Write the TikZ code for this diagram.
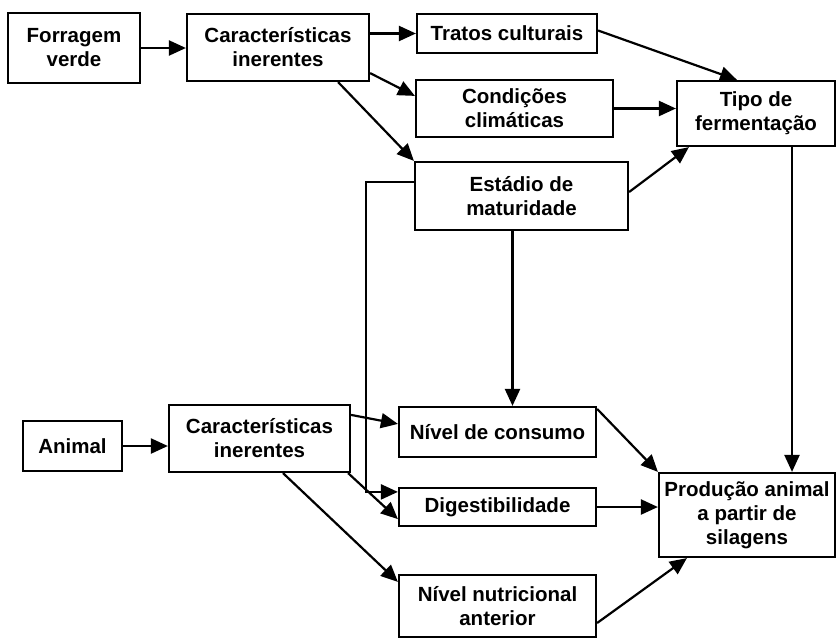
\documentclass[tikz,border=0pt]{standalone}
\usepackage{fontspec}
\setmainfont{Liberation Sans}
\usetikzlibrary{arrows.meta,calc}
\tikzset{
  box/.style={draw, line width=2.2pt, align=center, inner sep=0pt,
    font=\fontsize{20.5}{24}\selectfont\bfseries},
  conn/.style={line width=2.2pt, -{Triangle[length=17pt,width=15pt]}},
}
\begin{document}
\begin{tikzpicture}[x=1pt,y=-1pt]
\useasboundingbox (0,0) rectangle (837,638);
% top branch
\node[box, minimum width=132pt, minimum height=70pt] (fv) at (74,48) {Forragem\\verde};
\node[box, minimum width=182pt, minimum height=67pt] (ci1) at (278,47.5) {Características\\inerentes};
\node[box, minimum width=180pt, minimum height=39pt] (tc) at (507,33.5) {Tratos culturais};
\node[box, minimum width=197pt, minimum height=57pt] (cc) at (514.5,108.5) {Condições\\climáticas};
\node[box, minimum width=158pt, minimum height=65pt] (tf) at (756,113.5) {Tipo de\\fermentação};
\node[box, minimum width=213pt, minimum height=68pt] (em) at (521.5,196) {Estádio de\\maturidade};
% bottom branch
\node[box, minimum width=99pt, minimum height=50pt] (an) at (72.5,446) {Animal};
\node[box, minimum width=181pt, minimum height=67pt] (ci2) at (259.5,438.5) {Características\\inerentes};
\node[box, minimum width=197pt, minimum height=50pt] (nc) at (497.5,432) {Nível de consumo};
\node[box, minimum width=197pt, minimum height=38pt] (dg) at (497.5,507) {Digestibilidade};
\node[box, minimum width=197pt, minimum height=62pt] (nn) at (497.5,606) {Nível nutricional\\anterior};
\node[box, minimum width=176pt, minimum height=84pt] (pa) at (747,515) {Produção animal\\a partir de\\silagens};
% connectors top
\draw[conn] (fv.east) -- (ci1.west |- fv.east);
\draw[conn] (ci1.east |- tc.west) -- (tc.west);
\draw[conn] ($(ci1.south east)+(0,-9)$) -- ($(cc.north west)+(0,17)$);
\draw[conn] ($(ci1.south east)+(-32,0)$) -- (em.north west);
\draw[conn] ($(tc.east)+(0,-3)$) -- ($(tf.north)+(-19,0)$);
\draw[conn] (cc.east) -- (tf.west |- cc.east);
\draw[conn] ($(em.east)+(0,-4)$) -- ($(tf.south west)+(13,0)$);
\coordinate (tfb) at ($(tf.south)+(36,0)$);
\draw[conn] (tfb) -- (tfb |- pa.north);
\coordinate (emb) at ($(em.south)+(-9,0)$);
\draw[conn] (emb) -- (emb |- nc.north);
\draw[conn] ($(em.north west)+(0,21)$) -- ++(-48,0) |- ($(dg.north west)+(0,5)$);
% connectors bottom
\draw[conn] (an.east) -- (ci2.west |- an.east);
\draw[conn] ($(ci2.north east)+(0,11)$) -- ($(nc.north west)+(0,18)$);
\draw[conn] ($(ci2.south east)+(-3,0)$) -- ($(dg.south west)+(0,-8)$);
\draw[conn] ($(ci2.south)+(23.5,0)$) -- ($(nn.north west)+(0,8)$);
\draw[conn] ($(nc.north east)+(0,3)$) -- (pa.north west);
\draw[conn] (dg.east) -- (pa.west |- dg.east);
\draw[conn] ($(nn.east)+(0,17)$) -- ($(pa.south west)+(29,0)$);
\end{tikzpicture}
\end{document}
